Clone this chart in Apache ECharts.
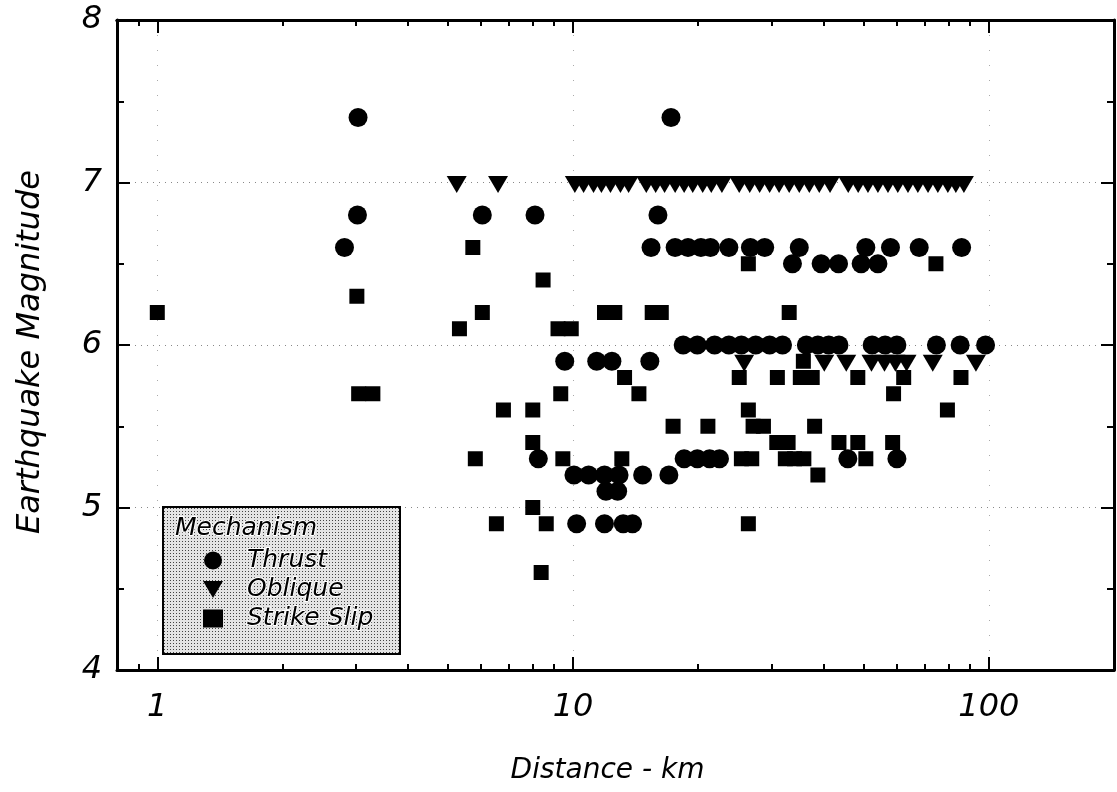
<!DOCTYPE html>
<html>
<head>
<meta charset="utf-8">
<title>Earthquake Magnitude vs Distance</title>
<script src="https://cdn.jsdelivr.net/npm/echarts@6/dist/echarts.min.js"></script>
<style>
  html, body { margin: 0; background: #fff; }
  #chart { width: 1117px; height: 792px; }
</style>
</head>
<body>
<div id="chart"></div>
<script>
// [distance km, magnitude]
const thrust = [
  [3.04, 7.4], [17.2, 7.4],
  [3.03, 6.8], [6.05, 6.8], [8.1, 6.8], [16.0, 6.8],
  [2.82, 6.6], [15.4, 6.6], [17.6, 6.6], [18.9, 6.6], [20.3, 6.6], [21.4, 6.6], [23.7, 6.6],
  [26.7, 6.6], [28.9, 6.6], [35.0, 6.6], [50.6, 6.6], [58, 6.6], [68, 6.6], [86, 6.6],
  [33.7, 6.5], [39.5, 6.5], [43.5, 6.5], [49.3, 6.5], [54.1, 6.5],
  [18.4, 6.0], [19.9, 6.0], [21.9, 6.0], [23.7, 6.0], [25.4, 6.0], [27.5, 6.0], [29.7, 6.0],
  [31.9, 6.0], [36.4, 6.0], [38.8, 6.0], [41.2, 6.0], [43.6, 6.0], [52.4, 6.0], [56.3, 6.0],
  [60.1, 6.0], [74.8, 6.0], [85.3, 6.0], [98.2, 6.0],
  [9.55, 5.9], [11.4, 5.9], [12.4, 5.9], [15.3, 5.9],
  [8.25, 5.3], [18.5, 5.3], [19.9, 5.3], [21.3, 5.3], [22.5, 5.3], [45.8, 5.3], [60.1, 5.3],
  [10.05, 5.2], [10.9, 5.2], [11.9, 5.2], [12.9, 5.2], [14.7, 5.2], [17.0, 5.2],
  [12.0, 5.1], [12.8, 5.1],
  [10.2, 4.9], [11.9, 4.9], [13.2, 4.9], [13.9, 4.9]
]

const oblique = [
  [5.25, 7.0], [6.6, 7.0],
  [10.1, 7.0], [10.6, 7.0], [11.2, 7.0], [11.7, 7.0], [12.3, 7.0], [13.0, 7.0], [13.6, 7.0],
  [15.0, 7.0], [15.8, 7.0], [16.6, 7.0], [17.6, 7.0], [18.5, 7.0], [19.4, 7.0], [20.5, 7.0],
  [21.5, 7.0], [22.8, 7.0],
  [25.1, 7.0], [26.6, 7.0], [28.1, 7.0], [29.7, 7.0], [31.3, 7.0], [33.1, 7.0], [35.0, 7.0],
  [37.0, 7.0], [39.1, 7.0], [41.5, 7.0],
  [45.9, 7.0], [48.5, 7.0], [51.2, 7.0], [54.1, 7.0], [57.2, 7.0], [60.4, 7.0], [63.9, 7.0],
  [67.5, 7.0], [71.4, 7.0], [75.4, 7.0], [79.7, 7.0], [83.3, 7.0], [87.1, 7.0],
  [25.8, 5.9], [40.2, 5.9], [45.4, 5.9], [52.2, 5.9], [56.1, 5.9], [59.6, 5.9], [63.4, 5.9],
  [73.3, 5.9], [93.1, 5.9]
]

const strikeSlip = [
  [1.0, 6.2], [3.02, 6.3], [3.05, 5.7], [3.3, 5.7], [5.33, 6.1], [5.74, 6.6], [6.05, 6.2],
  [6.8, 5.6], [8.0, 5.6], [8.0, 5.4], [5.82, 5.3], [9.45, 5.3], [8.0, 5.0], [6.54, 4.9],
  [8.62, 4.9], [8.38, 4.6], [8.47, 6.4], [9.2, 6.1], [9.9, 6.1], [9.34, 5.7],
  [11.9, 6.2], [12.6, 6.2], [15.5, 6.2], [16.3, 6.2], [33.1, 6.2],
  [26.4, 6.5], [74.6, 6.5],
  [35.8, 5.9],
  [13.3, 5.8], [25.1, 5.8], [31.0, 5.8], [35.2, 5.8], [37.6, 5.8], [48.4, 5.8], [62.4, 5.8], [85.7, 5.8],
  [14.4, 5.7], [59.0, 5.7],
  [26.4, 5.6], [79.5, 5.6],
  [17.4, 5.5], [21.1, 5.5], [27.1, 5.5], [28.7, 5.5], [38.1, 5.5],
  [30.9, 5.4], [32.9, 5.4], [43.6, 5.4], [48.4, 5.4], [58.7, 5.4],
  [13.1, 5.3], [25.4, 5.3], [26.9, 5.3], [32.4, 5.3], [34.1, 5.3], [35.9, 5.3], [50.6, 5.3],
  [38.8, 5.2],
  [26.4, 4.9]
]

const mechanisms = ['Thrust', 'Oblique', 'Strike Slip']
const majorTicks = [1, 10, 100]
const minorTicks = [0.9, 2, 3, 4, 5, 6, 7, 8, 9, 20, 30, 40, 50, 60, 70, 80, 90]

const FONT = '"DejaVu Sans", Verdana, sans-serif'
const black = '#000'
const TRIANGLE_DOWN = 'path://M0,0L20,0L10,17Z'

// stipple fill for the legend box
const dots = document.createElement('canvas')
dots.width = 3
dots.height = 3
const dctx = dots.getContext('2d')
dctx.fillStyle = '#e4e4e4'
dctx.fillRect(0, 0, 3, 3)
dctx.fillStyle = '#444'
dctx.fillRect(1, 1, 1, 1)

// log x axis; several copies share the grid to draw major/minor ticks on both sides
function distAxis(position, ticks, len, main) {
  return {
    type: 'log',
    logBase: 10,
    min: 0.8,
    max: 200,
    position: position,
    name: main ? 'Distance - km' : '',
    nameLocation: 'middle',
    nameGap: 87,
    nameTextStyle: {
      fontSize: 28, fontStyle: 'italic', fontFamily: FONT, color: black,
      padding: [0, 16, 0, 0]
    },
    axisLine: { show: main || position === 'top', lineStyle: { color: black, width: 3 } },
    axisTick: { show: true, inside: true, length: len, customValues: ticks, lineStyle: { color: black, width: 2 } },
    axisLabel: {
      show: main,
      customValues: ticks,
      margin: 22,
      fontSize: 32,
      fontStyle: 'italic',
      fontFamily: FONT,
      color: black
    },
    splitLine: { show: main, lineStyle: { color: '#aaa', type: [1, 14], width: 1 } }
  }
}

function magAxis(position, main) {
  return {
    type: 'value',
    min: 4,
    max: 8,
    interval: 1,
    position: position,
    name: main ? 'Earthquake Magnitude' : '',
    nameLocation: 'middle',
    nameGap: 70,
    nameTextStyle: {
      fontSize: 32, fontStyle: 'italic', fontFamily: FONT, color: black,
      padding: [0, 14, 0, 0]
    },
    axisLine: { show: true, lineStyle: { color: black, width: 3 } },
    axisTick: { inside: true, length: 13, lineStyle: { color: black, width: 2 } },
    minorTick: { show: true, splitNumber: 2, length: 7, lineStyle: { color: black, width: 2 } },
    axisLabel: { show: main, margin: 15, fontSize: 32, fontStyle: 'italic', fontFamily: FONT, color: black },
    splitLine: { show: main, lineStyle: { color: '#888', type: [1, 5], width: 1 } },
    minorSplitLine: { show: false }
  }
}

const chart = echarts.init(document.getElementById('chart'))
chart.setOption({
  animation: false,
  backgroundColor: '#fff',
  grid: { left: 117, top: 20, width: 997, height: 650, containLabel: false },
  xAxis: [
    distAxis('bottom', majorTicks, 13, true),
    distAxis('bottom', minorTicks, 6, false),
    distAxis('top', majorTicks, 13, false),
    distAxis('top', minorTicks, 6, false)
  ],
  yAxis: [magAxis('left', true), magAxis('right', false)],
  legend: {
    orient: 'vertical',
    left: 198,
    top: 542,
    itemWidth: 20,
    itemHeight: 18,
    itemGap: 2,
    selectedMode: false,
    z: 60,
    data: [
      { name: mechanisms[0] },
      { name: mechanisms[1], icon: TRIANGLE_DOWN },
      { name: mechanisms[2] }
    ],
    textStyle: {
      fontSize: 25,
      fontStyle: 'italic',
      fontFamily: FONT,
      color: black,
      padding: [0, 0, 0, 19],
      textBorderColor: '#fff',
      textBorderWidth: 2
    }
  },
  graphic: [
    {
      type: 'rect',
      left: 162,
      top: 506,
      z: 50,
      shape: { width: 237, height: 147 },
      style: { fill: { image: dots, repeat: 'repeat' }, stroke: black, lineWidth: 2 }
    },
    {
      type: 'text',
      left: 174,
      top: 515,
      z: 55,
      style: {
        text: 'Mechanism',
        font: 'italic 25px ' + FONT,
        fill: black,
        stroke: '#fff',
        lineWidth: 2
      }
    }
  ],
  series: [
    {
      name: mechanisms[0],
      type: 'scatter',
      symbol: 'circle',
      symbolSize: 19,
      itemStyle: { color: black, opacity: 1 },
      data: thrust
    },
    {
      name: mechanisms[1],
      type: 'scatter',
      symbol: 'triangle',
      symbolRotate: 180,
      symbolSize: [20, 17],
      symbolOffset: [0, 2],
      itemStyle: { color: black, opacity: 1 },
      data: oblique
    },
    {
      name: mechanisms[2],
      type: 'scatter',
      symbol: 'rect',
      symbolSize: 15,
      itemStyle: { color: black, opacity: 1 },
      data: strikeSlip
    }
  ]
})
</script>
</body>
</html>
